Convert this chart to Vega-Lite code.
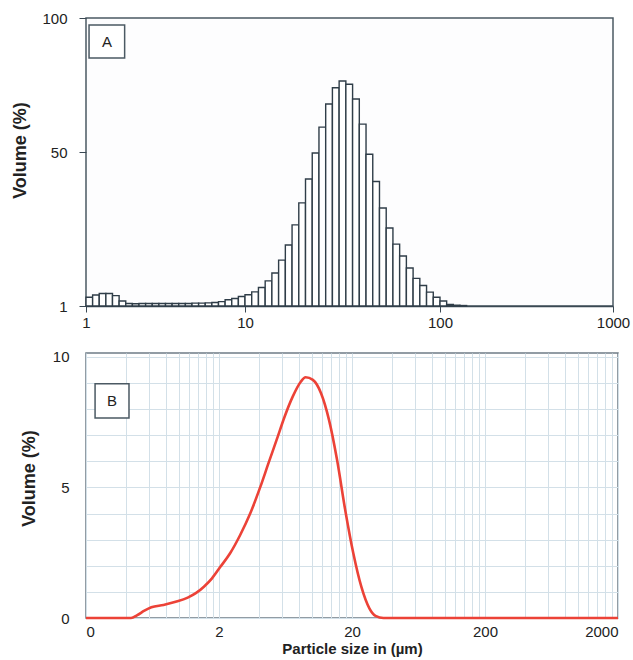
{
  "$schema": "https://vega.github.io/schema/vega-lite/v6.json",
  "background": "white",
  "padding": {"left": 11, "top": 10, "right": 0, "bottom": 0},
  "spacing": 18,
  "config": {
    "font": "Liberation Sans",
    "axis": {"labelColor": "#222222", "titleColor": "#222222", "labelFontSize": 15, "titleFontSize": 18, "titleFontWeight": "bold", "labelFontWeight": "normal"}
  },
  "datasets": {
    "hist": [
      {"lo": 1, "hi": 1.1007, "vol": 3.8},
      {"lo": 1.1007, "hi": 1.2115, "vol": 4.5},
      {"lo": 1.2115, "hi": 1.3335, "vol": 5.0},
      {"lo": 1.3335, "hi": 1.4678, "vol": 5.0},
      {"lo": 1.4678, "hi": 1.6156, "vol": 4.3},
      {"lo": 1.6156, "hi": 1.7783, "vol": 2.6},
      {"lo": 1.7783, "hi": 1.9573, "vol": 1.8},
      {"lo": 1.9573, "hi": 2.1544, "vol": 1.7},
      {"lo": 2.1544, "hi": 2.3714, "vol": 1.8},
      {"lo": 2.3714, "hi": 2.6102, "vol": 1.8},
      {"lo": 2.6102, "hi": 2.873, "vol": 1.8},
      {"lo": 2.873, "hi": 3.1623, "vol": 1.8},
      {"lo": 3.1623, "hi": 3.4807, "vol": 1.8},
      {"lo": 3.4807, "hi": 3.8312, "vol": 1.8},
      {"lo": 3.8312, "hi": 4.217, "vol": 1.8},
      {"lo": 4.217, "hi": 4.6416, "vol": 1.8},
      {"lo": 4.6416, "hi": 5.109, "vol": 1.9},
      {"lo": 5.109, "hi": 5.6234, "vol": 1.9},
      {"lo": 5.6234, "hi": 6.1897, "vol": 2.0},
      {"lo": 6.1897, "hi": 6.8129, "vol": 2.1},
      {"lo": 6.8129, "hi": 7.4989, "vol": 2.4},
      {"lo": 7.4989, "hi": 8.254, "vol": 3.0},
      {"lo": 8.254, "hi": 9.0852, "vol": 3.4},
      {"lo": 9.0852, "hi": 10, "vol": 4.0},
      {"lo": 10, "hi": 10.826, "vol": 4.6},
      {"lo": 10.826, "hi": 11.721, "vol": 5.5},
      {"lo": 11.721, "hi": 12.69, "vol": 6.9},
      {"lo": 12.69, "hi": 13.738, "vol": 9.0},
      {"lo": 13.738, "hi": 14.873, "vol": 11.5},
      {"lo": 14.873, "hi": 16.102, "vol": 15.6},
      {"lo": 16.102, "hi": 17.433, "vol": 20.4},
      {"lo": 17.433, "hi": 18.874, "vol": 26.8},
      {"lo": 18.874, "hi": 20.433, "vol": 33.8},
      {"lo": 20.433, "hi": 22.122, "vol": 41.4},
      {"lo": 22.122, "hi": 23.95, "vol": 49.7},
      {"lo": 23.95, "hi": 25.929, "vol": 59.3},
      {"lo": 25.929, "hi": 28.072, "vol": 67.9},
      {"lo": 28.072, "hi": 30.392, "vol": 74.0},
      {"lo": 30.392, "hi": 32.903, "vol": 76.5},
      {"lo": 32.903, "hi": 35.623, "vol": 75.3},
      {"lo": 35.623, "hi": 38.566, "vol": 69.8},
      {"lo": 38.566, "hi": 41.753, "vol": 60.4},
      {"lo": 41.753, "hi": 45.204, "vol": 49.3},
      {"lo": 45.204, "hi": 48.939, "vol": 40.6},
      {"lo": 48.939, "hi": 52.985, "vol": 32.2},
      {"lo": 52.985, "hi": 57.362, "vol": 25.8},
      {"lo": 57.362, "hi": 62.098, "vol": 20.7},
      {"lo": 62.098, "hi": 67.234, "vol": 16.9},
      {"lo": 67.234, "hi": 72.79, "vol": 13.1},
      {"lo": 72.79, "hi": 78.805, "vol": 9.8},
      {"lo": 78.805, "hi": 85.317, "vol": 7.5},
      {"lo": 85.317, "hi": 92.367, "vol": 5.4},
      {"lo": 92.367, "hi": 100, "vol": 3.8},
      {"lo": 100, "hi": 109.26, "vol": 2.6},
      {"lo": 109.26, "hi": 119.38, "vol": 1.5},
      {"lo": 119.38, "hi": 130.43, "vol": 1.25},
      {"lo": 130.43, "hi": 142.51, "vol": 1.15}
    ],
    "psd": [
      {"size": 0.2, "vol": 0},
      {"size": 0.3, "vol": 0},
      {"size": 0.436, "vol": 0},
      {"size": 0.486, "vol": 0.11},
      {"size": 0.55, "vol": 0.28},
      {"size": 0.62, "vol": 0.41},
      {"size": 0.765, "vol": 0.5},
      {"size": 0.944, "vol": 0.62},
      {"size": 1.164, "vol": 0.78},
      {"size": 1.338, "vol": 0.95},
      {"size": 1.54, "vol": 1.2},
      {"size": 1.772, "vol": 1.52},
      {"size": 2.035, "vol": 1.94},
      {"size": 2.424, "vol": 2.48},
      {"size": 2.886, "vol": 3.18},
      {"size": 3.438, "vol": 4.01},
      {"size": 4.096, "vol": 5.03},
      {"size": 4.711, "vol": 5.93},
      {"size": 5.422, "vol": 6.82},
      {"size": 6.226, "vol": 7.71},
      {"size": 7.166, "vol": 8.48},
      {"size": 8.242, "vol": 9.05},
      {"size": 8.956, "vol": 9.22},
      {"size": 10.16, "vol": 9.12},
      {"size": 11.7, "vol": 8.61},
      {"size": 13.43, "vol": 7.59},
      {"size": 15.45, "vol": 6.05},
      {"size": 17.78, "vol": 4.14},
      {"size": 20.46, "vol": 2.48},
      {"size": 23.5, "vol": 1.2},
      {"size": 27.02, "vol": 0.37},
      {"size": 30.04, "vol": 0.08},
      {"size": 34.5, "vol": 0},
      {"size": 100, "vol": 0},
      {"size": 2000, "vol": 0}
    ],
    "one": [{}]
  },
  "vconcat": [
    {
      "width": 527,
      "height": 288,
      "view": {"stroke": "#4b5963", "strokeWidth": 1.5, "fill": "#fdfdfe"},
      "layer": [
        {
          "data": {"name": "hist"},
          "mark": {"type": "rect", "fill": "#ffffff", "stroke": "#2f3d48", "strokeWidth": 1.4},
          "encoding": {
            "x": {"field": "lo", "type": "quantitative",
              "scale": {"type": "log", "domain": [1, 10, 100, 1000], "range": [0, 159, 354, 527], "nice": false},
              "axis": {"values": [1, 10, 100, 1000], "tickCount": 50, "format": "d", "title": null, "labelFlush": false, "labelOverlap": false, "tickSize": 6, "tickColor": "#3a4853", "domainColor": "#3a4853", "domainWidth": 1.5, "labelPadding": 3, "grid": false}},
            "x2": {"field": "hi"},
            "y": {"field": "vol", "type": "quantitative",
              "scale": {"type": "linear", "domain": [1, 50, 100], "range": [288, 134, 0], "nice": false, "zero": false},
              "axis": {"values": [1, 50, 100], "tickCount": 50, "format": "d", "title": "Volume (%)", "titleY": 132, "labelOverlap": false, "tickSize": 7, "tickColor": "#3a4853", "domain": false, "labelPadding": 12, "titlePadding": 12, "grid": false}},
            "y2": {"datum": 1}
          }
        },
        {
          "data": {"name": "one"},
          "mark": {"type": "rect", "fill": "#ffffff", "stroke": "#4b5963", "strokeWidth": 1.5},
          "encoding": {
            "x": {"datum": 1.045, "type": "quantitative"},
            "x2": {"datum": 1.75},
            "y": {"datum": 97.4, "type": "quantitative"},
            "y2": {"datum": 85.1}
          }
        },
        {
          "data": {"name": "one"},
          "mark": {"type": "text", "fontSize": 15, "color": "#222222", "font": "Liberation Sans"},
          "encoding": {
            "x": {"datum": 1.353, "type": "quantitative"},
            "y": {"datum": 91.0, "type": "quantitative"},
            "text": {"value": "A"}
          }
        }
      ]
    },
    {
      "width": 532,
      "height": 265,
      "view": {"stroke": "#6f7c86", "strokeWidth": 1.5, "fill": "#ffffff"},
      "layer": [
        {
          "data": {"name": "psd"},
          "mark": {"type": "line", "color": "#ec4237", "strokeWidth": 2.6, "interpolate": "monotone"},
          "encoding": {
            "x": {"field": "size", "type": "quantitative",
              "scale": {"type": "log", "domain": [0.2, 2000], "nice": false},
              "axis": {"values": [0.2, 0.4, 0.6, 0.8, 1, 1.2, 1.4, 1.6, 1.8, 2, 4, 6, 8, 10, 12, 14, 16, 18, 20, 40, 60, 80, 100, 120, 140, 160, 180, 200, 400, 600, 800, 1000, 1200, 1400, 1600, 1800, 2000],
                "tickCount": 100,
                "format": "d",
                "labelExpr": "datum.value == 0.2 ? '0' : ((datum.value == 2 || datum.value == 20 || datum.value == 200 || datum.value == 2000) ? datum.label : '')",
                "title": "Particle size in (µm)", "titleFontSize": 15, "titlePadding": 2,
                "labelFlush": true, "labelOverlap": false, "ticks": false, "labelPadding": 6, "domain": false,
                "grid": true, "gridColor": "#d3e0e8", "gridWidth": 1}},
            "y": {"field": "vol", "type": "quantitative",
              "scale": {"domain": [0, 10.15], "nice": false, "zero": true},
              "axis": {"values": [0, 1, 2, 3, 4, 5, 6, 7, 8, 9, 10], "tickCount": 50, "format": "d",
                "labelExpr": "datum.value % 5 == 0 ? datum.label : ''",
                "title": "Volume (%)", "titleY": 125, "labelOverlap": false, "ticks": false, "domain": false, "labelPadding": 17, "titlePadding": 14,
                "grid": true, "gridColor": "#d3e0e8", "gridWidth": 1}}
          }
        },
        {
          "data": {"name": "one"},
          "mark": {"type": "rect", "fill": "#ffffff", "stroke": "#4b5963", "strokeWidth": 1.5},
          "encoding": {
            "x": {"datum": 0.234, "type": "quantitative"},
            "x2": {"datum": 0.421},
            "y": {"datum": 8.97, "type": "quantitative"},
            "y2": {"datum": 7.66}
          }
        },
        {
          "data": {"name": "one"},
          "mark": {"type": "text", "fontSize": 15, "color": "#222222", "font": "Liberation Sans"},
          "encoding": {
            "x": {"datum": 0.314, "type": "quantitative"},
            "y": {"datum": 8.31, "type": "quantitative"},
            "text": {"value": "B"}
          }
        }
      ]
    }
  ]
}
